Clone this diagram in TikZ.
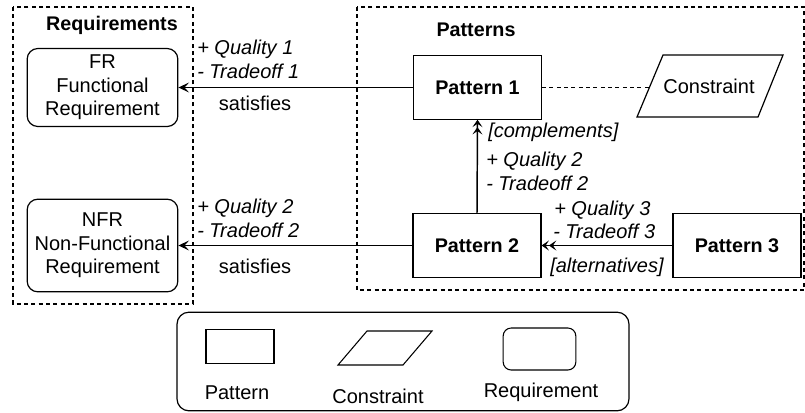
\documentclass[tikz,border=0pt]{standalone}
\usepackage{fontspec}
\setmainfont{Liberation Sans}
\usetikzlibrary{arrows.meta}
\begin{document}
\begin{tikzpicture}[x=0.75pt,y=-0.75pt,
  font=\fontsize{15}{17.5}\selectfont,
  grp/.style={draw,line width=0.8pt,dash pattern=on 3pt off 2.5pt},
  pat/.style={draw,line width=0.9pt,minimum width=96pt,minimum height=47.5pt,font=\fontsize{14.8}{17.5}\selectfont\bfseries},
  req/.style={draw,line width=0.9pt,rounded corners=8pt,minimum width=113pt,align=center},
  lbl/.style={inner sep=0pt,anchor=base west,font=\fontsize{15}{17.5}\selectfont\itshape},
  plain/.style={inner sep=0pt,anchor=base},
  sat/.style={line width=1.1pt,-{Stealth[length=8pt,width=7.5pt,inset=3.5pt]}},
  dbl/.style={line width=1.1pt,-{Stealth[length=5.5pt,width=7.5pt,inset=2.5pt]Stealth[length=5.5pt,width=7.5pt,inset=2.5pt]}}
]
\useasboundingbox (0,0) rectangle (805,412);

% group boxes
\draw[grp] (13,7) rectangle (193,304);
\draw[grp] (357,7) rectangle (804,290);
\node[font=\fontsize{14.8}{17.5}\selectfont\bfseries] (treq) at (112,25) {Requirements};
\node[font=\fontsize{14.8}{17.5}\selectfont\bfseries] (tpat) at (476,30) {Patterns};

% requirement nodes
\node[req,minimum height=58.5pt] (FR) at (102.5,87.5) {FR\\Functional\\Requirement};
\node[req,minimum height=69.5pt] (NFR) at (102.5,245.5) {NFR\\Non-Functional\\Requirement};

% pattern nodes
\node[pat] (P1) at (477.5,87.5) {Pattern 1};
\node[pat] (P2) at (477,245.5) {Pattern 2};
\node[pat] (P3) at (737,245.5) {Pattern 3};

% constraint
\node[inner sep=0pt] (C) at (709,86) {Constraint};
\draw[line width=0.9pt] (663,55) -- (783,55) -- (758,117) -- (637,117) -- cycle;
\coordinate (Cl) at (650,87.5);

% connectors
\draw[sat] (P1.west) -- (FR.east);
\draw[sat] (P2.west) -- (NFR.east);
\draw[dbl] (P2.north) -- (P1.south);
\draw[dbl] (P3.west) -- (P2.east);
\draw[line width=0.8pt,dash pattern=on 3pt off 2.5pt] (P1.east) -- (Cl);

% labels
\node[lbl] (q1) at (197,54) {+ Quality 1};
\node[lbl] (t1) at (197,78) {- Tradeoff 1};
\node[plain] (s1) at (255,110) {satisfies};
\node[lbl] (q2a) at (197,213) {+ Quality 2};
\node[lbl] (t2a) at (197,237) {- Tradeoff 2};
\node[plain] (s2) at (255,273) {satisfies};
\node[lbl] (cmp) at (488,137) {[complements]};
\node[lbl] (q2b) at (486,166) {+ Quality 2};
\node[lbl] (t2b) at (486,190) {- Tradeoff 2};
\node[lbl] (q3) at (554,215) {+ Quality 3};
\node[lbl] (t3) at (553,238) {- Tradeoff 3};
\node[lbl] (alt) at (550,272) {[alternatives]};

% legend
\node[draw,line width=0.9pt,rounded corners=9pt,minimum width=339pt,minimum height=74pt] (legend) at (403,361.5) {};
\node[draw,line width=0.8pt,minimum width=51pt,minimum height=26pt] (lp) at (240,346.5) {};
\draw[line width=0.8pt] (367,331) -- (432,331) -- (403,365) -- (338,365) -- cycle;
\node[draw,line width=0.8pt,rounded corners=6pt,minimum width=54.5pt,minimum height=31.5pt] (lr) at (539.5,349) {};
\node[plain] (lpt) at (237,399) {Pattern};
\node[plain] (lct) at (378,403) {Constraint};
\node[plain] (lrt) at (541,397) {Requirement};
\end{tikzpicture}
\end{document}
